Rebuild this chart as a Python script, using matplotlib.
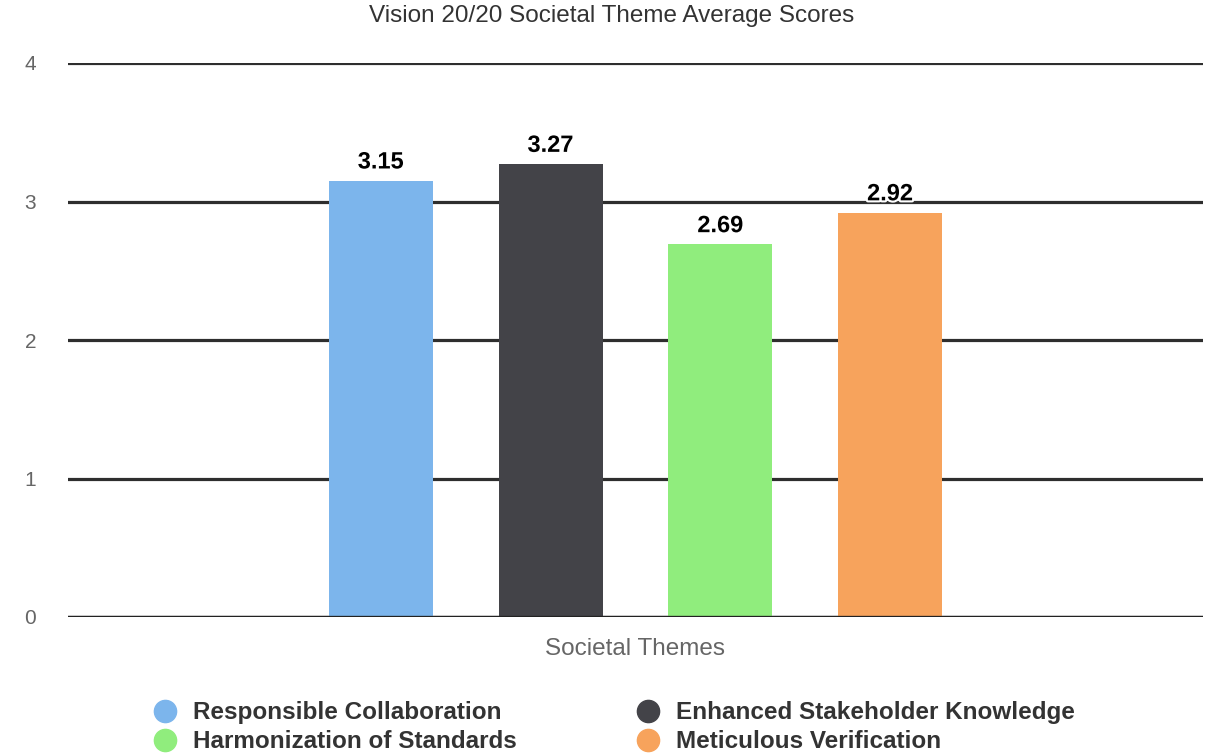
import numpy as np
import matplotlib.pyplot as plt
import matplotlib.patheffects as pe
from matplotlib.lines import Line2D

plt.rcParams['font.family'] = ['Liberation Sans', 'DejaVu Sans']

# data
themes = ['Responsible Collaboration', 'Enhanced Stakeholder Knowledge',
          'Harmonization of Standards', 'Meticulous Verification']
scores = [3.15, 3.27, 2.69, 2.92]
colors = ['#7cb5ec', '#434348', '#90ed7d', '#f7a35c']
y_ticks = [0, 1, 2, 3, 4]

W, H = 1217, 756
fig = plt.figure(figsize=(W / 100, H / 100), dpi=100)
ax = fig.add_axes([68 / W, 1 - 617 / H, 1135 / W, 554 / H])

# bars grouped around the single category
x = 0.5 + (np.arange(len(scores)) - 1.5) * 0.1496
bars = ax.bar(x, scores, width=0.0916, color=colors, zorder=3)

for xi, s in zip(x, scores):
    ax.annotate(f'{s:.2f}', (xi, s), xytext=(0, 13.5), textcoords='offset points',
                ha='center', va='center', fontsize=17, fontweight='bold',
                color='#000000', zorder=5,
                path_effects=[pe.withStroke(linewidth=3, foreground='white')])

##########################################################################
# axes, grid
##########################################################################
ax.set_xlim(0, 1)
ax.set_ylim(0, 4)
ax.set_yticks(y_ticks)
ax.set_xticks([])
ax.yaxis.grid(True, color='#2e2e2e', linewidth=2.3, zorder=0)
ax.tick_params(axis='y', length=0, pad=23, labelsize=15, labelcolor='#666666')
for sp in ax.spines.values():
    sp.set_visible(False)
ax.axhline(0, color='#222222', linewidth=2.4, zorder=4)

fig.text(635 / W, 1 - 649 / H, 'Societal Themes', ha='center', va='center',
         fontsize=17.5, color='#666666')
fig.text(612 / W, 1 - 16 / H, 'Vision 20/20 Societal Theme Average Scores',
         ha='center', va='center', fontsize=17.5, color='#333333')

##########################################################################
# legend (two columns, circle markers)
##########################################################################
leg_x = [165, 165, 648, 648]
leg_y = [711, 740, 711, 740]
legend_order = [0, 2, 1, 3]
for k, i in enumerate(legend_order):
    cx, cy = leg_x[k], leg_y[k]
    fig.add_artist(Line2D([cx / W], [1 - cy / H], marker='o', markersize=16,
                          linestyle='none', color=colors[i],
                          transform=fig.transFigure))
    fig.text((cx + 28) / W, 1 - (cy + 2) / H, themes[i], ha='left', va='center',
             fontsize=17.5, fontweight='bold', color='#333333')

fig.savefig('out.png', dpi=100)
